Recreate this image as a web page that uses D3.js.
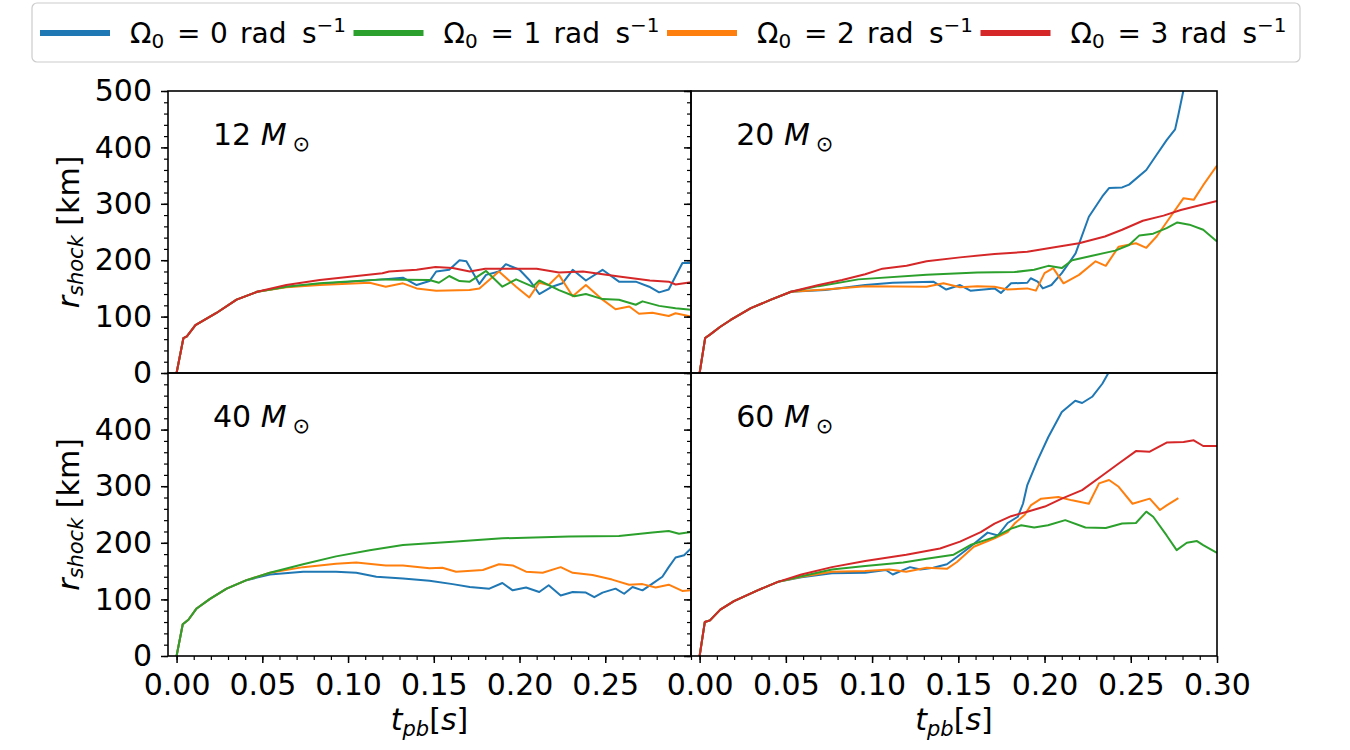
<!DOCTYPE html>
<html>
<head>
<meta charset="utf-8">
<script src="https://cdn.jsdelivr.net/npm/d3@7"></script>
<style>
  body { margin: 0; background: #fff; }
  svg text { font-family: "DejaVu Sans", sans-serif; fill: #000; }
</style>
</head>
<body>
<div id="chart"></div>
<script>
(function() {

  // ---- data: [t_pb (s), r_shock (km)] ----
  const series = ["0", "1", "2", "3"];
  const seriesColors = ["#1f77b4", "#2ca02c", "#ff7f0e", "#d62728"];
  const panelMasses = ["12", "20", "40", "60"];

  const m12Blue = [[0,0],[0.004,62],[0.006,65],[0.011,85],[0.0195,100],[0.023,106],[0.035,130],[0.047,144],[0.064,153],[0.0835,158],[0.12,166],[0.132,169],[0.14,156],[0.1475,163],[0.1514,180],[0.159,183],[0.165,200],[0.169,198],[0.1766,158],[0.1805,174],[0.188,180],[0.192,193],[0.2,183],[0.2057,165],[0.2115,140],[0.219,153],[0.225,159],[0.231,183],[0.2387,164],[0.2484,183],[0.258,162],[0.2678,162],[0.2756,153],[0.2814,143],[0.287,148],[0.295,195],[0.3,195]];
  const m12Green = [[0,0],[0.004,62],[0.006,65],[0.011,85],[0.0195,100],[0.023,106],[0.035,130],[0.047,144],[0.064,153],[0.0835,159],[0.12,166],[0.1475,165],[0.153,160],[0.159,172],[0.165,163],[0.171,162],[0.1805,181],[0.19,153],[0.198,166],[0.2077,153],[0.2115,164],[0.223,147],[0.232,136],[0.2387,140],[0.2484,131],[0.258,130],[0.2678,121],[0.2717,127],[0.2814,119],[0.291,115],[0.3,112]];
  const m12Orange = [[0,0],[0.004,62],[0.006,65],[0.011,85],[0.0195,100],[0.023,106],[0.035,130],[0.047,144],[0.064,152],[0.0835,156],[0.1126,160],[0.122,153],[0.132,159],[0.14,150],[0.1514,146],[0.1708,147],[0.1766,150],[0.188,180],[0.198,153],[0.2057,134],[0.2115,160],[0.217,156],[0.223,174],[0.231,136],[0.2387,156],[0.2484,130],[0.256,113],[0.264,118],[0.2697,105],[0.2775,107],[0.287,101],[0.291,106],[0.3,100]];
  const m12Red = [[0,0],[0.004,62],[0.006,65],[0.011,85],[0.0195,100],[0.023,106],[0.035,130],[0.047,144],[0.064,156],[0.0835,165],[0.12,177],[0.124,180],[0.14,183],[0.151,188],[0.161,186],[0.171,180],[0.18,185],[0.21,185],[0.223,178],[0.237,180],[0.258,171],[0.276,164],[0.287,162],[0.291,157],[0.3,161]];

  const m20Blue = [[0,0],[0.0032,62],[0.006,68],[0.012,82],[0.018,94],[0.0297,115],[0.0414,130],[0.053,144],[0.0728,147],[0.096,156],[0.112,160],[0.1355,162],[0.143,148],[0.151,156],[0.157,146],[0.171,150],[0.1747,142],[0.1806,159],[0.19,160],[0.192,168],[0.196,162],[0.199,150],[0.204,156],[0.21,177],[0.218,212],[0.2257,277],[0.2335,313],[0.2374,328],[0.245,329],[0.249,334],[0.259,360],[0.265,387],[0.2708,413],[0.2757,432],[0.2776,458],[0.2806,502],[0.2825,520]];
  const m20Green = [[0,0],[0.0032,62],[0.006,68],[0.012,82],[0.018,94],[0.0297,115],[0.0414,130],[0.053,144],[0.069,154],[0.092,166],[0.1316,174],[0.161,178],[0.1826,179],[0.194,183],[0.2022,190],[0.21,186],[0.216,200],[0.2276,208],[0.241,217],[0.249,227],[0.255,244],[0.263,247],[0.2708,257],[0.277,267],[0.284,263],[0.292,254],[0.3,233]];
  const m20Orange = [[0,0],[0.0032,62],[0.006,68],[0.012,82],[0.018,94],[0.0297,115],[0.0414,130],[0.053,144],[0.0728,148],[0.096,154],[0.1316,153],[0.1414,159],[0.151,152],[0.161,154],[0.171,153],[0.1786,148],[0.19,150],[0.195,146],[0.2,177],[0.205,186],[0.211,159],[0.22,174],[0.2296,198],[0.2355,190],[0.243,224],[0.253,230],[0.259,222],[0.265,242],[0.273,277],[0.2806,310],[0.2865,307],[0.292,333],[0.3,368]];
  const m20Red = [[0,0],[0.0032,62],[0.006,68],[0.012,82],[0.018,94],[0.0297,115],[0.0414,130],[0.053,144],[0.069,156],[0.0826,165],[0.096,175],[0.106,185],[0.12,190],[0.1316,198],[0.151,205],[0.171,211],[0.19,215],[0.204,222],[0.22,230],[0.235,242],[0.245,254],[0.257,270],[0.269,279],[0.279,289],[0.3,305]];

  const m40Blue = [[0,0],[0.0036,56],[0.0069,64],[0.0117,84],[0.0195,101],[0.0292,119],[0.0408,134],[0.0544,144],[0.0738,149],[0.093,149],[0.1048,147],[0.1165,140],[0.132,137],[0.1475,133],[0.161,127],[0.171,122],[0.1824,119],[0.19,129],[0.196,116],[0.2038,121],[0.2115,113],[0.217,125],[0.224,107],[0.231,113],[0.2387,112],[0.2436,104],[0.2484,112],[0.256,119],[0.261,110],[0.2659,122],[0.2717,116],[0.2775,128],[0.2833,140],[0.287,157],[0.291,174],[0.296,178],[0.3,190]];
  const m40Green = [[0,0],[0.0036,56],[0.0069,64],[0.0117,84],[0.0195,101],[0.0292,119],[0.0408,134],[0.0544,147],[0.0738,162],[0.093,176],[0.1126,187],[0.132,196],[0.161,202],[0.19,208],[0.229,211],[0.258,212],[0.2775,218],[0.287,221],[0.293,216],[0.3,219]];
  const m40Orange = [[0,0],[0.0036,56],[0.0069,64],[0.0117,84],[0.0195,101],[0.0292,119],[0.0408,134],[0.0544,147],[0.0738,157],[0.093,163],[0.1048,165],[0.122,160],[0.132,160],[0.1475,155],[0.155,156],[0.163,149],[0.1786,152],[0.188,162],[0.196,160],[0.2038,149],[0.2135,147],[0.224,157],[0.231,147],[0.2426,143],[0.254,135],[0.2639,126],[0.2717,127],[0.2794,121],[0.287,126],[0.2949,115],[0.3,116]];

  const m60Blue = [[0,0],[0.003,60],[0.006,63],[0.012,82],[0.0199,97],[0.0336,116],[0.0454,131],[0.059,139],[0.0767,146],[0.096,147],[0.108,152],[0.112,144],[0.122,157],[0.128,153],[0.1355,156],[0.1434,162],[0.1492,175],[0.157,193],[0.167,218],[0.173,213],[0.1786,235],[0.1845,246],[0.1875,269],[0.19,302],[0.196,346],[0.2022,387],[0.21,431],[0.2178,451],[0.2218,447],[0.2276,458],[0.2335,481],[0.2374,502],[0.2394,517]];
  const m60Green = [[0,0],[0.003,60],[0.006,63],[0.012,82],[0.0199,97],[0.0336,116],[0.0454,131],[0.059,141],[0.0767,153],[0.096,159],[0.118,165],[0.1316,172],[0.1473,179],[0.157,196],[0.171,210],[0.1806,225],[0.1865,231],[0.194,227],[0.202,231],[0.212,240],[0.2237,227],[0.2355,226],[0.245,234],[0.253,235],[0.259,255],[0.263,246],[0.2708,213],[0.2766,187],[0.2825,200],[0.2884,203],[0.292,196],[0.3,182]];
  const m60Orange = [[0,0],[0.003,60],[0.006,63],[0.012,82],[0.0199,97],[0.0336,116],[0.0454,131],[0.059,140],[0.0767,149],[0.096,150],[0.11,153],[0.1198,149],[0.1316,156],[0.1434,154],[0.1492,166],[0.159,193],[0.171,208],[0.1786,219],[0.1826,234],[0.1884,249],[0.192,266],[0.198,278],[0.208,281],[0.216,275],[0.2257,269],[0.2316,305],[0.2374,311],[0.243,299],[0.251,269],[0.261,278],[0.2669,258],[0.2708,266],[0.2776,279]];
  const m60Red = [[0,0],[0.003,60],[0.006,63],[0.012,82],[0.0199,97],[0.0336,116],[0.0454,131],[0.059,144],[0.0767,157],[0.096,168],[0.1198,179],[0.1394,190],[0.151,202],[0.163,219],[0.171,234],[0.1806,247],[0.19,255],[0.2002,264],[0.21,278],[0.2218,293],[0.2335,319],[0.243,340],[0.253,362],[0.261,361],[0.2708,377],[0.2806,378],[0.2865,381],[0.292,371],[0.3,371]];

  const xTicks = [0, 0.05, 0.10, 0.15, 0.20, 0.25, 0.30];
  const yTicks = [0, 100, 200, 300, 400, 500];

  // one entry per panel: lines in series order (null = not plotted)
  const panelLines = [
    [m12Blue, m12Green, m12Orange, m12Red],
    [m20Blue, m20Green, m20Orange, m20Red],
    [m40Blue, m40Green, m40Orange, null],
    [m60Blue, m60Green, m60Orange, m60Red]
  ];
  // drawing order: blue, orange, green, red (green sits on top of orange)
  const drawOrder = [0, 2, 1, 3];

  // ---- layout ----
  let width = 1350, height = 750;
  let colX = [[168, 691], [691, 1217]];
  let rowY = [[91, 373], [373, 656]];

  let svg = d3.select("#chart")
    .append("svg")
      .attr("width", width)
      .attr("height", height);

  let xMinor = d3.range(0, 0.3001, 0.01);
  let yMinor = d3.range(0, 500.1, 20);

  panelMasses.forEach(function(mass, i) {
    let col = i % 2, row = Math.floor(i / 2);
    let x0 = colX[col][0], x1 = colX[col][1];
    let y0 = rowY[row][0], y1 = rowY[row][1];

    let x = d3.scaleLinear().domain([-0.005, 0.30]).range([x0, x1]);
    let y = d3.scaleLinear().domain([0, 500]).range([y1, y0]);

    let g = svg.append("g");

    svg.append("clipPath")
        .attr("id", "clip" + i)
      .append("rect")
        .attr("x", x0).attr("y", y0)
        .attr("width", x1 - x0).attr("height", y1 - y0);

    // y ticks (minor + major), labels only on left column
    g.append("g")
        .attr("transform", "translate(" + x0 + ",0)")
        .call(d3.axisLeft(y).tickValues(yMinor).tickSize(4).tickFormat(""))
        .call(a => a.select(".domain").remove())
        .selectAll("line").attr("stroke-width", 1.2);

    let yVals = row === 0 ? yTicks : yTicks.slice(0, 5);
    g.append("g")
        .attr("transform", "translate(" + x0 + ",0)")
        .call(d3.axisLeft(y).tickValues(yVals).tickSize(7).tickPadding(9)
          .tickFormat(col === 0 ? d3.format("d") : ""))
        .call(a => a.select(".domain").remove())
        .call(a => a.selectAll("line").attr("stroke-width", 1.5))
        .selectAll("text").style("font-size", "30px");

    // x ticks only on bottom row
    if (row === 1) {
      g.append("g")
          .attr("transform", "translate(0," + y1 + ")")
          .call(d3.axisBottom(x).tickValues(xMinor).tickSize(4).tickFormat(""))
          .call(a => a.select(".domain").remove())
          .selectAll("line").attr("stroke-width", 1.2);

      let xVals = col === 0 ? xTicks.slice(0, 6) : xTicks;
      g.append("g")
          .attr("transform", "translate(0," + y1 + ")")
          .call(d3.axisBottom(x).tickValues(xVals).tickSize(7).tickFormat(d3.format(".2f")))
          .call(a => a.select(".domain").remove())
          .call(a => a.selectAll("line").attr("stroke-width", 1.5))
          .selectAll("text")
            .attr("y", 39).attr("dy", null)
            .style("font-size", "30px");

      // x label
      let xl = g.append("text")
          .attr("x", (x0 + x1) / 2)
          .attr("y", 730)
          .attr("text-anchor", "middle")
          .style("font-size", "30px");
      xl.append("tspan").style("font-style", "italic").text("t");
      xl.append("tspan").style("font-style", "italic").style("font-size", "21px").attr("dy", 6).text("pb");
      xl.append("tspan").attr("dy", -6).text("[");
      xl.append("tspan").style("font-style", "italic").text("s");
      xl.append("tspan").text("]");
    }

    // y label on left column
    if (col === 0) {
      let yl = g.append("text")
          .attr("transform", "translate(79," + ((y0 + y1) / 2) + ") rotate(-90)")
          .attr("text-anchor", "middle")
          .style("font-size", "30px");
      yl.append("tspan").style("font-style", "italic").text("r");
      yl.append("tspan").style("font-style", "italic").style("font-size", "21px").attr("dy", 4).text("shock");
      yl.append("tspan").attr("dy", -4).text(" [km]");
    }

    // lines
    let line = d3.line()
        .x(function(d) { return x(d[0]); })
        .y(function(d) { return y(d[1]); });

    drawOrder.forEach(function(s) {
      let data = panelLines[i][s];
      if (!data) return;
      g.append("path")
          .datum(data)
          .attr("clip-path", "url(#clip" + i + ")")
          .attr("fill", "none")
          .attr("stroke", seriesColors[s])
          .attr("stroke-width", 2)
          .attr("stroke-linejoin", "round")
          .attr("d", line);
    });

    // frame
    g.append("rect")
        .attr("x", x0).attr("y", y0)
        .attr("width", x1 - x0).attr("height", y1 - y0)
        .attr("fill", "none")
        .attr("stroke", "#000")
        .attr("stroke-width", 1.6);

    // mass label
    let ml = g.append("text")
        .attr("x", x0 + 0.086 * (x1 - x0))
        .attr("y", y0 + 0.19 * (y1 - y0))
        .style("font-size", "30px");
    ml.append("tspan").text(mass + " ");
    ml.append("tspan").style("font-style", "italic").text("M");
    ml.append("tspan").style("font-size", "21px").attr("dx", 6).attr("dy", 6).text("\u2299");
  });

  // ---- legend ----
  let legend = svg.append("g");
  legend.append("rect")
      .attr("x", 32).attr("y", 3)
      .attr("width", 1268).attr("height", 59)
      .attr("rx", 5)
      .attr("fill", "#fff")
      .attr("stroke", "#cccccc")
      .attr("stroke-width", 1.2);

  series.forEach(function(s, i) {
    let lx = 40 + i * 313.5;
    legend.append("line")
        .attr("x1", lx).attr("x2", lx + 70)
        .attr("y1", 33).attr("y2", 33)
        .attr("stroke", seriesColors[i])
        .attr("stroke-width", 6);
    let t = legend.append("text")
        .attr("y", 43)
        .style("font-size", "28px");
    t.append("tspan").attr("x", lx + 90).text("\u03A9");
    t.append("tspan").style("font-size", "20px").attr("dy", 5).text("0");
    t.append("tspan").attr("x", lx + 137).attr("dy", -5).text("=");
    t.append("tspan").attr("x", lx + 170).text(s);
    t.append("tspan").attr("x", lx + 200).text("rad");
    t.append("tspan").attr("x", lx + 262).text("s");
    t.append("tspan").style("font-size", "20px").attr("dy", -11).text("\u22121");
  });

})();
</script>
</body>
</html>
